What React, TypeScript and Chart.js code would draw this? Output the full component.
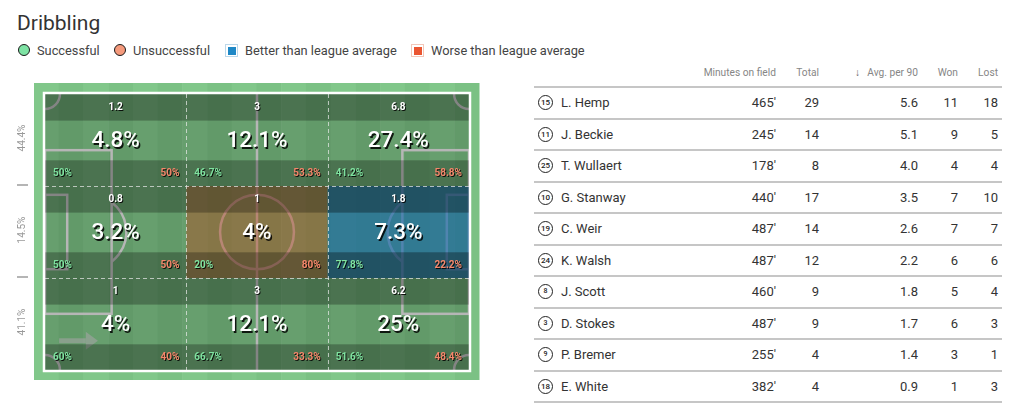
import React, { useEffect, useRef } from "react";
import { Chart, registerables } from "chart.js";

Chart.register(...registerables);

// ---------- DATA ----------
const columnShares = ["12.1%", "28.2%", "59.7%"];
const rowShares = ["44.4%", "14.5%", "41.1%"];

// zones row-major: top row first, columns left -> right
const zoneAvgPer90 = [1.2, 3, 6.8, 0.8, 1, 1.8, 1, 3, 6.2];
const zoneShare = [4.8, 12.1, 27.4, 3.2, 4, 7.3, 4, 12.1, 25];
const zoneSuccess = [50, 46.7, 41.2, 50, 20, 77.8, 60, 66.7, 51.6];
const zoneFail = [50, 53.3, 58.8, 50, 80, 22.2, 40, 33.3, 48.4];
const zoneVsLeague = ["avg", "avg", "avg", "avg", "worse", "better", "avg", "avg", "avg"];

const players = ["L. Hemp", "J. Beckie", "T. Wullaert", "G. Stanway", "C. Weir", "K. Walsh", "J. Scott", "D. Stokes", "P. Bremer", "E. White"];
const shirtNumbers = [15, 11, 25, 10, 19, 24, 8, 3, 9, 18];
const minutes = [465, 245, 178, 440, 487, 487, 460, 487, 255, 382];
const totals = [29, 14, 8, 17, 14, 12, 9, 9, 4, 4];
const avgPer90 = ["5.6", "5.1", "4.0", "3.5", "2.6", "2.2", "1.8", "1.7", "1.4", "0.9"];
const won = [11, 9, 4, 7, 7, 6, 5, 6, 3, 1];
const lost = [18, 5, 4, 10, 7, 6, 4, 3, 1, 3];

const legendItems = ["Successful", "Unsuccessful", "Better than league average", "Worse than league average"];

// pitch geometry (metres)
const PITCH_LEN = 105;
const PITCH_WID = 68;
const colEdges = [0, 35, 70, 105];
const rowEdges = [0, 68 / 3, 136 / 3, 68];

const FONT = "Roboto, 'Noto Sans', sans-serif";

const pitchPlugin = {
  id: "pitch",
  beforeDatasetsDraw(chart: any) {
    const { ctx, chartArea: a } = chart;
    const sx = chart.scales.x;
    const sy = chart.scales.y;
    const X = (v: number) => sx.getPixelForValue(v);
    const Y = (v: number) => sy.getPixelForValue(v);
    const mx = (X(PITCH_LEN) - X(0)) / PITCH_LEN;
    const my = (Y(PITCH_WID) - Y(0)) / PITCH_WID;
    const o = { l: a.left - 11, t: a.top - 11, r: a.right + 10, b: a.bottom + 10 };

    ctx.save();
    // grass stripes
    const n = 18;
    const sw = (o.r - o.l) / n;
    for (let i = 0; i < n; i++) {
      ctx.fillStyle = i % 2 ? "#7bc184" : "#81c78a";
      ctx.fillRect(o.l + i * sw, o.t, sw + 0.5, o.b - o.t);
    }

    // pitch markings
    ctx.strokeStyle = "rgb(228,228,228)";
    ctx.lineWidth = 2.5;
    ctx.beginPath();
    ctx.moveTo(X(52.5), Y(0));
    ctx.lineTo(X(52.5), Y(68));
    ctx.stroke();
    ctx.beginPath();
    ctx.ellipse(X(52.5), Y(34), 9.15 * mx, 9.15 * my, 0, 0, Math.PI * 2);
    ctx.stroke();
    const rect = (x0: number, y0: number, x1: number, y1: number) =>
      ctx.strokeRect(X(x0), Y(y0), X(x1) - X(x0), Y(y1) - Y(y0));
    rect(0, 13.84, 16.5, 54.16);
    rect(88.5, 13.84, 105, 54.16);
    rect(0, 24.84, 5.5, 43.16);
    rect(99.5, 24.84, 105, 43.16);
    const t = Math.acos(5.5 / 9.15);
    ctx.beginPath();
    ctx.ellipse(X(11), Y(34), 9.15 * mx, 9.15 * my, 0, -t, t);
    ctx.stroke();
    ctx.beginPath();
    ctx.ellipse(X(94), Y(34), 9.15 * mx, 9.15 * my, 0, Math.PI - t, Math.PI + t);
    ctx.stroke();
    const cr = 3.7;
    const corner = (x: number, y: number, s: number, e: number) => {
      ctx.beginPath();
      ctx.ellipse(X(x), Y(y), cr * mx, cr * my, 0, s, e);
      ctx.stroke();
    };
    corner(0, 0, 0, Math.PI / 2);
    corner(105, 0, Math.PI / 2, Math.PI);
    corner(0, 68, Math.PI * 1.5, Math.PI * 2);
    corner(105, 68, Math.PI, Math.PI * 1.5);

    // direction arrow
    ctx.fillStyle = "rgba(205,205,205,0.6)";
    const ay = Y(60.8);
    ctx.fillRect(X(3.5), ay - 2.5, X(10.1) - X(3.5), 5);
    ctx.beginPath();
    ctx.moveTo(X(10.1), ay - 9);
    ctx.lineTo(X(13.1), ay);
    ctx.lineTo(X(10.1), ay + 9);
    ctx.closePath();
    ctx.fill();

    // zone tints and bands
    for (let r = 0; r < 3; r++) {
      for (let c = 0; c < 3; c++) {
        const i = r * 3 + c;
        const x0 = X(colEdges[c]);
        const x1 = X(colEdges[c + 1]);
        const y0 = Y(rowEdges[r]);
        const y1 = Y(rowEdges[r + 1]);
        const w = x1 - x0;
        const h = y1 - y0;
        if (zoneVsLeague[i] === "worse") {
          ctx.fillStyle = "rgba(232,85,30,0.42)";
          ctx.fillRect(x0, y0, w, h);
        } else if (zoneVsLeague[i] === "better") {
          ctx.fillStyle = "rgba(24,116,192,0.66)";
          ctx.fillRect(x0, y0, w, h);
        }
        const hTop = h * 0.29;
        const hMid = h * 0.43;
        ctx.fillStyle = "rgba(0,0,0,0.42)";
        ctx.fillRect(x0, y0, w, hTop);
        ctx.fillRect(x0, y0 + hTop + hMid, w, h - hTop - hMid);
        ctx.fillStyle = zoneVsLeague[i] === "better" ? "rgba(0,0,0,0.14)" : "rgba(0,0,0,0.2)";
        ctx.fillRect(x0, y0 + hTop, w, hMid);
      }
    }

    // dashed zone boundaries
    ctx.setLineDash([4, 3]);
    ctx.strokeStyle = "rgba(235,235,235,0.7)";
    ctx.lineWidth = 1;
    [colEdges[1], colEdges[2]].forEach((v) => {
      ctx.beginPath();
      ctx.moveTo(Math.round(X(v)) + 0.5, a.top);
      ctx.lineTo(Math.round(X(v)) + 0.5, a.bottom);
      ctx.stroke();
    });
    [rowEdges[1], rowEdges[2]].forEach((v) => {
      ctx.beginPath();
      ctx.moveTo(a.left, Math.round(Y(v)) + 0.5);
      ctx.lineTo(a.right, Math.round(Y(v)) + 0.5);
      ctx.stroke();
    });
    ctx.setLineDash([]);

    // white touchline border
    ctx.strokeStyle = "#ffffff";
    ctx.lineWidth = 2.5;
    ctx.strokeRect(a.left - 1, a.top - 1, a.right - a.left + 2, a.bottom - a.top + 2);

    // zone texts
    ctx.textBaseline = "middle";
    ctx.shadowColor = "rgba(0,0,0,0.85)";
    ctx.shadowBlur = 0;
    for (let r = 0; r < 3; r++) {
      for (let c = 0; c < 3; c++) {
        const i = r * 3 + c;
        const x0 = X(colEdges[c]);
        const x1 = X(colEdges[c + 1]);
        const y0 = Y(rowEdges[r]);
        const y1 = Y(rowEdges[r + 1]);
        const h = y1 - y0;
        const hTop = h * 0.29;
        const hMid = h * 0.43;
        const cx = (x0 + x1) / 2;
        ctx.shadowOffsetX = 1;
        ctx.shadowOffsetY = 1;
        ctx.textAlign = "center";
        ctx.fillStyle = "#ffffff";
        ctx.font = `bold 10px ${FONT}`;
        ctx.fillText(String(zoneAvgPer90[i]), cx, y0 + hTop / 2 + 0.5);
        ctx.shadowOffsetX = 1.5;
        ctx.shadowOffsetY = 1.5;
        ctx.font = `500 22.5px ${FONT}`;
        ctx.fillText(`${zoneShare[i]}%`, cx, y0 + hTop + hMid / 2 + 1);
        ctx.shadowOffsetX = 1;
        ctx.shadowOffsetY = 1;
        ctx.font = `bold 10px ${FONT}`;
        const by = y0 + hTop + hMid + (h - hTop - hMid) / 2 + 0.5;
        ctx.textAlign = "left";
        ctx.fillStyle = "#7fe3a0";
        ctx.fillText(`${zoneSuccess[i]}%`, x0 + 8, by);
        ctx.textAlign = "right";
        ctx.fillStyle = "#f5866a";
        ctx.fillText(`${zoneFail[i]}%`, x1 - 7, by);
      }
    }
    ctx.shadowColor = "rgba(0,0,0,0)";
    ctx.shadowOffsetX = 0;
    ctx.shadowOffsetY = 0;

    // top axis (column shares)
    ctx.font = `10px ${FONT}`;
    ctx.fillStyle = "#8a8a8a";
    ctx.textAlign = "center";
    const ow = o.r - o.l;
    for (let k = 0; k < 3; k++) {
      ctx.fillText(columnShares[k], o.l + ow * (k + 0.5) / 3, a.top - 77);
    }
    ctx.strokeStyle = "#b5b5b5";
    ctx.lineWidth = 2;
    for (let k = 1; k < 3; k++) {
      const xx = Math.round(o.l + (ow * k) / 3);
      ctx.beginPath();
      ctx.moveTo(xx, a.top - 83);
      ctx.lineTo(xx, a.top - 72);
      ctx.stroke();
    }
    // left axis (row shares)
    for (let k = 0; k < 3; k++) {
      const yy = (Y(rowEdges[k]) + Y(rowEdges[k + 1])) / 2 - 2;
      ctx.save();
      ctx.translate(22, yy);
      ctx.rotate(-Math.PI / 2);
      ctx.fillStyle = "#999999";
      ctx.textAlign = "center";
      ctx.fillText(rowShares[k], 0, 0);
      ctx.restore();
    }
    for (let k = 1; k < 3; k++) {
      const yy = Math.round(Y(rowEdges[k])) - 1;
      ctx.beginPath();
      ctx.moveTo(17, yy);
      ctx.lineTo(28, yy);
      ctx.stroke();
    }
    ctx.restore();
  },
};

function Pitch() {
  const ref = useRef<HTMLCanvasElement>(null);
  useEffect(() => {
    if (!ref.current) return;
    const chart = new Chart(ref.current, {
      type: "scatter",
      data: { datasets: [{ data: [], pointRadius: 0 }] },
      options: {
        responsive: false,
        maintainAspectRatio: false,
        devicePixelRatio: 1,
        animation: false,
        events: [],
        layout: { padding: { left: 45, top: 39, right: 31, bottom: 30 } },
        scales: {
          x: { type: "linear", min: 0, max: PITCH_LEN, display: false },
          y: { type: "linear", min: 0, max: PITCH_WID, reverse: true, display: false },
        },
        plugins: { legend: { display: false }, tooltip: { enabled: false }, title: { display: false } },
      },
      plugins: [pitchPlugin],
    } as any);
    return () => chart.destroy();
  }, []);
  return (
    <canvas
      ref={ref}
      width={500}
      height={345}
      style={{ position: "absolute", left: 0, top: 55, width: 500, height: 345 }}
    />
  );
}

const abs = (extra: React.CSSProperties): React.CSSProperties => ({ position: "absolute", whiteSpace: "nowrap", ...extra });

export default function App() {
  const legendPos = [
    { icon: 18, text: 37, kind: "circle", color: "#7ee3a4", border: "#1a1a1a" },
    { icon: 114, text: 133, kind: "circle", color: "#f59a7c", border: "#1a1a1a" },
    { icon: 225, text: 245, kind: "square", color: "#1f88c6", border: "#bcd8ea" },
    { icon: 411, text: 431, kind: "square", color: "#ea5531", border: "#f3c7b8" },
  ];
  const rowTop = 87;
  const rowH = 31.5;
  const textStyle: React.CSSProperties = { fontFamily: FONT, fontSize: 13, color: "#333", lineHeight: "16px" };
  const headStyle: React.CSSProperties = { fontFamily: FONT, fontSize: 10.2, color: "#868686", lineHeight: "14px" };
  const cols = [
    { right: 776, head: "Minutes on field" },
    { right: 819, head: "Total" },
    { right: 918, head: "Avg. per 90" },
    { right: 958, head: "Won" },
    { right: 998, head: "Lost" },
  ];
  return (
    <div style={{ position: "absolute", left: 0, top: 0, width: 1016, height: 417, background: "#fff", overflow: "hidden" }}>
      <div style={abs({ left: 17, top: 9, fontFamily: FONT, fontSize: 21, lineHeight: "28px", color: "#333" })}>Dribbling</div>
      {legendItems.map((label, i) => {
        const p = legendPos[i];
        return (
          <React.Fragment key={label}>
            {p.kind === "circle" ? (
              <div
                style={abs({
                  left: p.icon, top: 44, width: 10, height: 10, borderRadius: "50%",
                  background: p.color, border: `1.5px solid ${p.border}`,
                })}
              />
            ) : (
              <div style={abs({ left: p.icon, top: 44, width: 11, height: 11, border: `1px solid ${p.border}` })}>
                <div style={{ position: "absolute", left: 1.5, top: 1.5, width: 8, height: 8, background: p.color }} />
              </div>
            )}
            <div style={abs({ left: p.text, top: 43, ...textStyle, fontSize: 12.8, color: "#444" })}>{label}</div>
          </React.Fragment>
        );
      })}
      <Pitch />
      {/* table header */}
      {cols.map((c) => (
        <div key={c.head} style={abs({ right: 1016 - c.right, top: 66, ...headStyle })}>{c.head}</div>
      ))}
      <div style={abs({ left: 855, top: 66, ...headStyle, color: "#666" })}>↓</div>
      {Array.from({ length: players.length + 1 }).map((_, i) => (
        <div key={"l" + i} style={abs({ left: 534, top: rowTop + rowH * i - 1, width: 468, height: 2, background: "#c6c6c6" })} />
      ))}
      {players.map((name, i) => {
        const cy = rowTop + rowH * i + rowH / 2 + 0.5;
        const vals = [`${minutes[i]}'`, String(totals[i]), avgPer90[i], String(won[i]), String(lost[i])];
        return (
          <React.Fragment key={name}>
            <div
              style={abs({
                left: 538, top: cy - 8, width: 13, height: 13, borderRadius: "50%", border: "1.5px solid #222",
                fontFamily: FONT, fontWeight: 500, fontSize: shirtNumbers[i] >= 10 ? 8 : 7, lineHeight: "13px", textAlign: "center", color: "#222",
              })}
            >
              {shirtNumbers[i]}
            </div>
            <div style={abs({ left: 561, top: cy - 8, ...textStyle })}>{name}</div>
            {vals.map((v, k) => (
              <div key={k} style={abs({ right: 1016 - cols[k].right, top: cy - 8, ...textStyle })}>{v}</div>
            ))}
          </React.Fragment>
        );
      })}
    </div>
  );
}
